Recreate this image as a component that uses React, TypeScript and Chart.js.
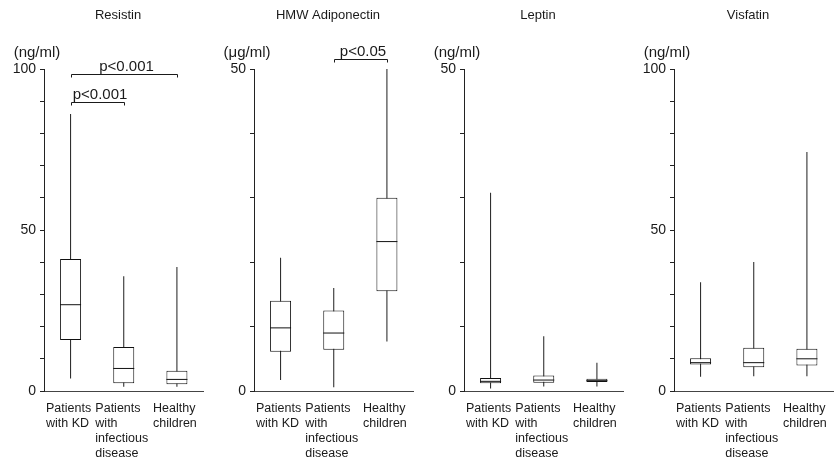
import React, { useEffect, useRef } from 'react';
import { Chart, registerables } from 'chart.js';

Chart.register(...registerables);

const FONT = '"Liberation Sans", Arial, Helvetica, sans-serif';

const categories: string[][] = [
  ['Patients', 'with KD'],
  ['Patients', 'with', 'infectious', 'disease'],
  ['Healthy', 'children'],
];

const panelTitles = ['Resistin', 'HMW Adiponectin', 'Leptin', 'Visfatin'];
const panelUnits = ['(ng/ml)', '(μg/ml)', '(ng/ml)', '(ng/ml)'];
const panelYMax = [100, 50, 50, 100];

// Resistin (ng/ml)
const resistinMin = [3.9, 1.3, 1.3];
const resistinQ1 = [15.8, 2.4, 2.1];
const resistinMedian = [26.8, 7.0, 3.6];
const resistinQ3 = [41.0, 13.7, 6.3];
const resistinMax = [86.0, 35.6, 38.5];

// HMW Adiponectin (µg/ml)
const adipoMin = [1.7, 0.6, 7.7];
const adipoQ1 = [6.1, 6.4, 15.5];
const adipoMedian = [9.8, 9.0, 23.2];
const adipoQ3 = [14.0, 12.5, 30.0];
const adipoMax = [20.7, 16.0, 50.0];

// Leptin (ng/ml)
const leptinMin = [0.4, 0.7, 0.7];
const leptinQ1 = [1.2, 1.3, 1.4];
const leptinMedian = [1.5, 1.7, 1.6];
const leptinQ3 = [2.0, 2.4, 1.9];
const leptinMax = [30.8, 8.5, 4.4];

// Visfatin (ng/ml)
const visfatinMin = [4.4, 4.6, 4.6];
const visfatinQ1 = [8.2, 7.4, 7.9];
const visfatinMedian = [8.8, 8.8, 10.0];
const visfatinQ3 = [10.2, 13.4, 13.1];
const visfatinMax = [33.8, 40.1, 74.2];

type Bracket = { from: number; to: number; y: number; label: string };
const resistinBrackets: Bracket[] = [
  { from: 0, to: 2, y: 98.6, label: 'p<0.001' },
  { from: 0, to: 1, y: 89.8, label: 'p<0.001' },
];
const adipoBrackets: Bracket[] = [{ from: 1, to: 2, y: 51.6, label: 'p<0.05' }];

const panelStats = [
  { min: resistinMin, q1: resistinQ1, med: resistinMedian, q3: resistinQ3, max: resistinMax, brackets: resistinBrackets },
  { min: adipoMin, q1: adipoQ1, med: adipoMedian, q3: adipoQ3, max: adipoMax, brackets: adipoBrackets },
  { min: leptinMin, q1: leptinQ1, med: leptinMedian, q3: leptinQ3, max: leptinMax, brackets: [] as Bracket[] },
  { min: visfatinMin, q1: visfatinQ1, med: visfatinMedian, q3: visfatinQ3, max: visfatinMax, brackets: [] as Bracket[] },
];

const panelTextPlugin = {
  id: 'panelText',
  afterDraw(chart: any, _args: any, opts: any) {
    const ctx = chart.ctx as CanvasRenderingContext2D;
    const xs = chart.scales.x;
    const ys = chart.scales.y;
    ctx.save();
    ctx.fillStyle = '#1a1a1a';
    ctx.strokeStyle = '#1a1a1a';
    ctx.lineWidth = 1;
    // title
    ctx.font = `13px ${FONT}`;
    ctx.textAlign = 'center';
    ctx.textBaseline = 'middle';
    ctx.fillText(opts.title, 118, 15);
    // unit
    ctx.font = `15px ${FONT}`;
    ctx.fillText(opts.unit, 37, 53);
    // category labels, lines left-aligned, block centred on category
    ctx.font = `12.5px ${FONT}`;
    ctx.textAlign = 'left';
    const labels: string[][] = chart.data.labels;
    labels.forEach((lines, i) => {
      const cx = xs.getPixelForValue(i);
      const w = Math.max(...lines.map((l) => ctx.measureText(l).width));
      lines.forEach((l, k) => {
        ctx.fillText(l, cx - w / 2 - 2, xs.top + 17.5 + k * 15);
      });
    });
    // significance brackets
    ctx.textAlign = 'center';
    ctx.textBaseline = 'alphabetic';
    ctx.font = `15px ${FONT}`;
    (opts.brackets as Bracket[]).forEach((b) => {
      const x1 = Math.round(xs.getPixelForValue(b.from)) + 0.5;
      const x2 = Math.round(xs.getPixelForValue(b.to)) + 0.5;
      const py = Math.round(ys.getPixelForValue(b.y)) + 0.5;
      ctx.beginPath();
      ctx.moveTo(x1, py + 3);
      ctx.lineTo(x1, py);
      ctx.lineTo(x2, py);
      ctx.lineTo(x2, py + 3);
      ctx.stroke();
      ctx.fillText(b.label, (x1 + x2) / 2 + 2, py - 4);
    });
    ctx.restore();
  },
};

function Panel({ idx }: { idx: number }) {
  const ref = useRef<HTMLCanvasElement>(null);
  useEffect(() => {
    const s = panelStats[idx];
    const chart = new Chart(ref.current as HTMLCanvasElement, {
      type: 'bar',
      data: {
        labels: categories as any,
        datasets: [
          {
            type: 'bar',
            label: 'range',
            data: s.min.map((v, i) => [v, s.max[i]]) as any,
            backgroundColor: '#1e1e1e',
            borderWidth: 0,
            inflateAmount: 0,
            barThickness: 1,
            grouped: false,
            order: 3,
          } as any,
          {
            type: 'bar',
            label: 'interquartile range',
            data: s.q1.map((v, i) => [v, s.q3[i]]) as any,
            backgroundColor: '#ffffff',
            borderColor: '#111111',
            borderWidth: 1,
            inflateAmount: 0,
            borderSkipped: false,
            barThickness: 21,
            grouped: false,
            order: 2,
          } as any,
          {
            type: 'line',
            label: 'median',
            data: s.med,
            showLine: false,
            pointStyle: 'line',
            pointRadius: 10.5,
            pointBorderWidth: 1,
            pointBorderColor: '#111111',
            borderColor: '#111111',
            order: 1,
          } as any,
        ],
      },
      options: {
        responsive: false,
        animation: false,
        devicePixelRatio: 1,
        events: [],
        layout: { padding: { top: 69, right: 6, left: 0, bottom: 0 } },
        plugins: {
          legend: { display: false },
          tooltip: { enabled: false },
          title: { display: false },
          panelText: { title: panelTitles[idx], unit: panelUnits[idx], brackets: s.brackets },
        } as any,
        scales: {
          x: {
            type: 'category',
            offset: true,
            grid: { display: true, drawOnChartArea: false, drawTicks: false },
            border: { display: true, color: '#444', width: 1 },
            ticks: { display: false },
            afterFit: (sc: any) => {
              sc.height = 72;
            },
          },
          y: {
            type: 'linear',
            min: 0,
            max: panelYMax[idx],
            ticks: {
              stepSize: 10,
              autoSkip: false,
              padding: 4,
              color: '#1a1a1a',
              font: { size: 14, family: FONT },
              callback: (v: any) => (Number(v) % 50 === 0 ? String(v) : ''),
            },
            grid: { display: true, drawOnChartArea: false, drawTicks: true, tickLength: 4, color: '#222' },
            border: { display: true, color: '#222', width: 1 },
            afterFit: (sc: any) => {
              sc.width = 44;
            },
          },
        },
      } as any,
      plugins: [panelTextPlugin],
    });
    return () => chart.destroy();
  }, [idx]);
  return (
    <canvas
      ref={ref}
      width={215}
      height={463}
      style={{ position: 'absolute', left: idx * 210, top: 0, width: 215, height: 463 }}
    />
  );
}

export default function App() {
  return (
    <div
      style={{
        position: 'fixed',
        left: 0,
        top: 0,
        width: 835,
        height: 463,
        overflow: 'hidden',
        background: '#ffffff',
      }}
    >
      {[0, 1, 2, 3].map((i) => (
        <Panel key={i} idx={i} />
      ))}
    </div>
  );
}
